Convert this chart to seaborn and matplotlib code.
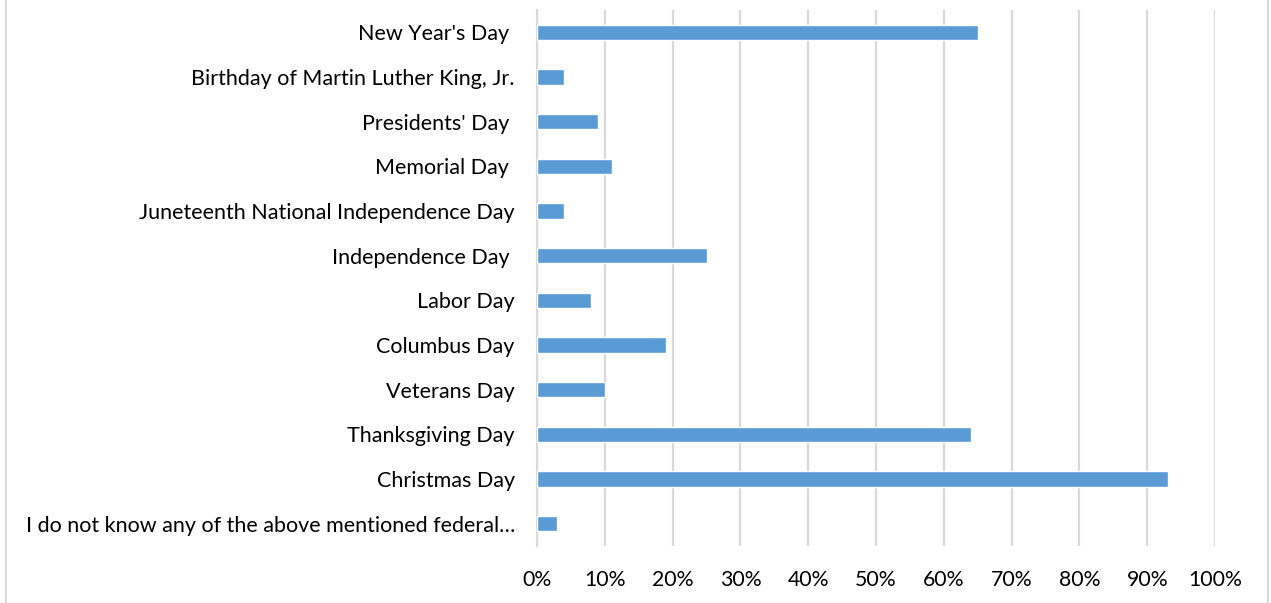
import matplotlib
matplotlib.use('Agg')
import matplotlib.pyplot as plt
import seaborn as sns
import pandas as pd
from matplotlib.patches import Rectangle
from matplotlib.ticker import PercentFormatter

holidays = [
    "New Year's Day ",
    "Birthday of Martin Luther King, Jr.",
    "Presidents' Day ",
    "Memorial Day ",
    "Juneteenth National Independence Day",
    "Independence Day ",
    "Labor Day",
    "Columbus Day",
    "Veterans Day",
    "Thanksgiving Day",
    "Christmas Day",
    "I do not know any of the above mentioned federal\u2026",
]
shares = [65, 4, 9, 11, 4, 25, 8, 19, 10, 64, 93, 3]
xticks = list(range(0, 101, 10))

df = pd.DataFrame({"holiday": holidays, "share": shares})

sns.set_theme(style="white")
plt.rcParams['font.family'] = ['Lato', 'DejaVu Sans']

fig = plt.figure(figsize=(12.71, 6.03), dpi=100)
ax = fig.add_axes([537 / 1271, 1 - 546 / 603, (1215 - 537) / 1271, (546 - 10) / 603])

sns.barplot(data=df, y="holiday", x="share", color="#5B9BD5", width=0.34,
            saturation=1, ax=ax, zorder=3)

ax.set_xlim(0, 100)
ax.set_xticks(xticks)
ax.xaxis.set_major_formatter(PercentFormatter(decimals=0))
ax.grid(axis="x", color="#D9D9D9", linewidth=1.6, zorder=0)
ax.set_axisbelow(True)
ax.set_xlabel("")
ax.set_ylabel("")
for s in ["top", "right", "bottom"]:
    ax.spines[s].set_visible(False)
ax.spines["left"].set_color("#D9D9D9")
ax.spines["left"].set_linewidth(1.6)
ax.tick_params(axis="x", length=0, pad=17, labelsize=15.3, labelcolor="#000000")
ax.tick_params(axis="y", length=0, pad=16, labelsize=15.5, labelcolor="#000000")

# chart-area border
fig.patches.append(Rectangle((6 / 1271, -0.01), (1268 - 6) / 1271, 1.02,
                             transform=fig.transFigure, fill=False,
                             edgecolor="#D9D9D9", linewidth=1.5))

fig.savefig("out.png", dpi=100)
